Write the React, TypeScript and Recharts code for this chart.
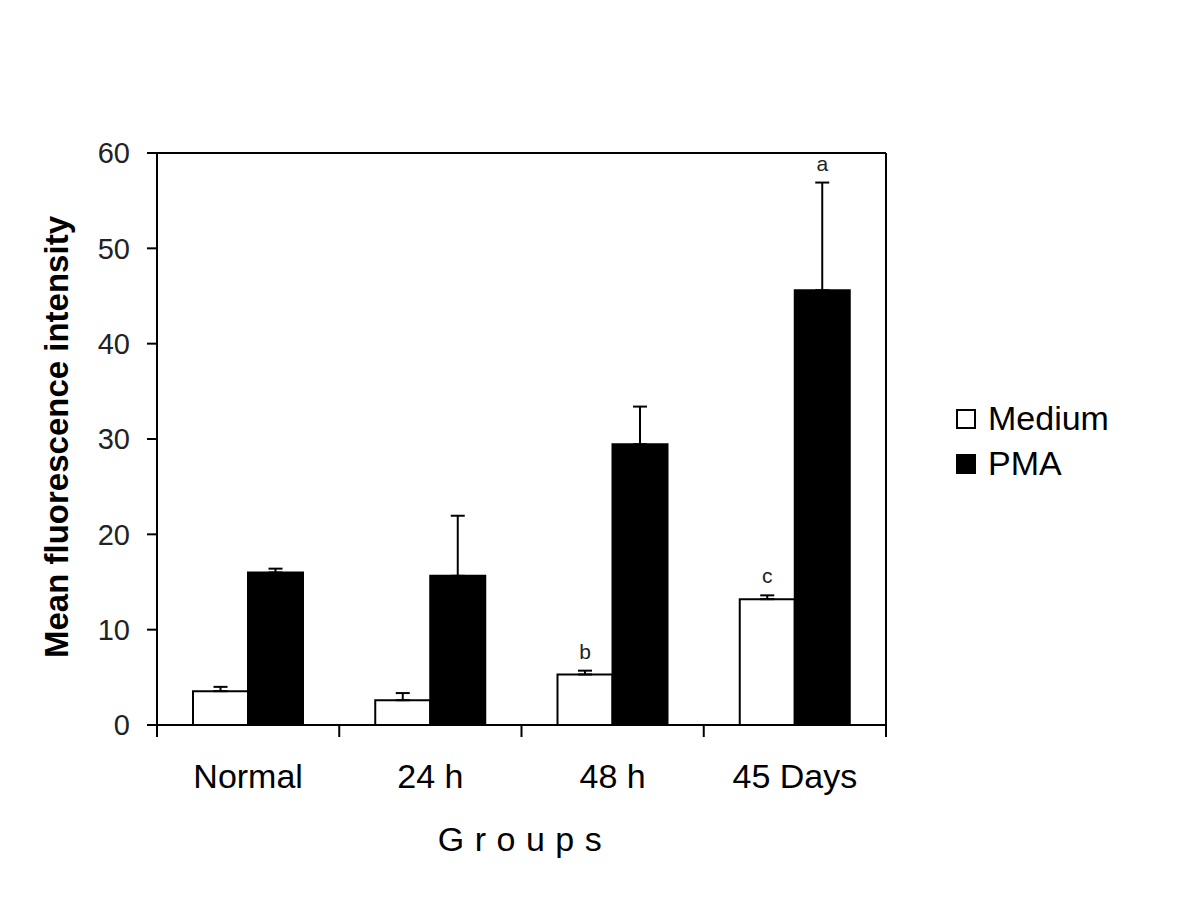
import React from 'react';
import {
  BarChart,
  Bar,
  XAxis,
  YAxis,
  ErrorBar,
  LabelList,
  ReferenceLine,
  Legend,
} from 'recharts';

const categories = ['Normal', '24 h', '48 h', '45 Days'];
const mediumValues = [3.55, 2.6, 5.3, 13.2];
const mediumErrors = [0.45, 0.75, 0.4, 0.4];
const pmaValues = [16.0, 15.65, 29.45, 45.6];
const pmaErrors = [0.4, 6.3, 3.95, 11.3];
const mediumLetters = ['', '', 'b', 'c'];
const pmaLetters = ['', '', '', 'a'];
const yTicks = [0, 10, 20, 30, 40, 50, 60];

const FONT = '"Liberation Sans", Arial, Helvetica, sans-serif';
const X_TICK_MARGIN = 39;
const X_TICK_LEN = 12;

const data = categories.map((name, i) => ({
  name,
  medium: mediumValues[i],
  pma: pmaValues[i],
  mediumErr: [0, mediumErrors[i]],
  pmaErr: [0, pmaErrors[i]],
  mediumLetter: mediumLetters[i],
  pmaLetter: pmaLetters[i],
}));

const makeLetter = (values: number[], errors: number[]) => (props: any) => {
  const { x, y, width, height, value, index } = props;
  if (!value) return null;
  const v = values[index];
  const ppu = Math.abs(height) / v;
  const top = Number(y) - errors[index] * ppu;
  return (
    <text
      x={Number(x) + Number(width) / 2}
      y={top - 12}
      textAnchor="middle"
      fontFamily={FONT}
      fontSize={21}
      fill="#222"
    >
      {value}
    </text>
  );
};

// Category tick: label at band centre, tick marks at the band boundaries.
const CategoryTick = (props: any) => {
  const { x, y, payload, index, width, visibleTicksCount } = props;
  const count = visibleTicksCount || categories.length;
  const band = Number(width) / count;
  const axisY = Number(y) - X_TICK_MARGIN;
  const left = Number(x) - band / 2;
  const right = Number(x) + band / 2;
  return (
    <g>
      <line x1={left} x2={left} y1={axisY} y2={axisY + X_TICK_LEN} stroke="#000" strokeWidth={2} />
      {index === count - 1 ? (
        <line x1={right} x2={right} y1={axisY} y2={axisY + X_TICK_LEN} stroke="#000" strokeWidth={2} />
      ) : null}
      <text
        x={x}
        y={Number(y) + 24}
        textAnchor="middle"
        fontFamily={FONT}
        fontSize={34}
        fill="#000"
      >
        {payload.value}
      </text>
    </g>
  );
};

const renderLegend = () => (
  <div style={{ fontFamily: FONT, fontSize: 34, color: '#000' }}>
    {[
      { label: 'Medium', fill: '#fff' },
      { label: 'PMA', fill: '#000' },
    ].map((it) => (
      <div key={it.label} style={{ display: 'flex', alignItems: 'center', height: 45 }}>
        <span
          style={{
            display: 'inline-block',
            width: 20,
            height: 20,
            boxSizing: 'border-box',
            border: '2px solid #000',
            background: it.fill,
            marginRight: 12,
          }}
        />
        <span style={{ lineHeight: '45px' }}>{it.label}</span>
      </div>
    ))}
  </div>
);

export default function App() {
  return (
    <div style={{ position: 'absolute', left: 0, top: 0, width: 1200, height: 899, background: '#fff' }}>
      <BarChart
        width={1200}
        height={899}
        data={data}
        margin={{ top: 153, right: 313, bottom: 173, left: 57 }}
        barCategoryGap={36}
        barGap={0}
      >
        <XAxis
          dataKey="name"
          height={1}
          interval={0}
          axisLine={{ stroke: '#000', strokeWidth: 2 }}
          tickLine={false}
          tickSize={0}
          tickMargin={X_TICK_MARGIN}
          tick={<CategoryTick />}
          label={{
            content: () => (
              <text
                x={525}
                y={851}
                textAnchor="middle"
                fontFamily={FONT}
                fontSize={34}
                fill="#000"
                style={{ letterSpacing: '10.5px' }}
              >
                Groups
              </text>
            ),
          }}
        />
        <YAxis
          width={100}
          domain={[0, 60]}
          ticks={yTicks}
          interval={0}
          axisLine={{ stroke: '#000', strokeWidth: 2 }}
          tickLine={{ stroke: '#000', strokeWidth: 2 }}
          tickSize={10}
          tickMargin={17}
          tick={{ fontFamily: FONT, fontSize: 29, fill: '#222' }}
          label={{
            content: () => (
              <text
                x={68}
                y={437}
                transform="rotate(-90, 68, 437)"
                textAnchor="middle"
                fontFamily={FONT}
                fontSize={33}
                fontWeight="bold"
                fill="#000"
              >
                Mean fluorescence intensity
              </text>
            ),
          }}
        />
        <YAxis
          yAxisId="frame"
          orientation="right"
          width={1}
          domain={[0, 60]}
          ticks={yTicks}
          tick={false}
          tickLine={false}
          axisLine={{ stroke: '#000', strokeWidth: 2 }}
        />
        <ReferenceLine y={60} stroke="#000" strokeWidth={2} />
        <Bar dataKey="medium" fill="#fff" stroke="#000" strokeWidth={2} isAnimationActive={false}>
          <ErrorBar dataKey="mediumErr" width={7} stroke="#000" strokeWidth={2} direction="y" />
          <LabelList dataKey="mediumLetter" content={makeLetter(mediumValues, mediumErrors)} />
        </Bar>
        <Bar dataKey="pma" fill="#000" stroke="#000" strokeWidth={2} isAnimationActive={false}>
          <ErrorBar dataKey="pmaErr" width={7} stroke="#000" strokeWidth={2} direction="y" />
          <LabelList dataKey="pmaLetter" content={makeLetter(pmaValues, pmaErrors)} />
        </Bar>
        <Legend
          layout="horizontal"
          verticalAlign="middle"
          align="center"
          content={renderLegend}
          wrapperStyle={{ position: 'absolute', left: 956, top: 396, width: 220, height: 90 }}
        />
      </BarChart>
    </div>
  );
}
